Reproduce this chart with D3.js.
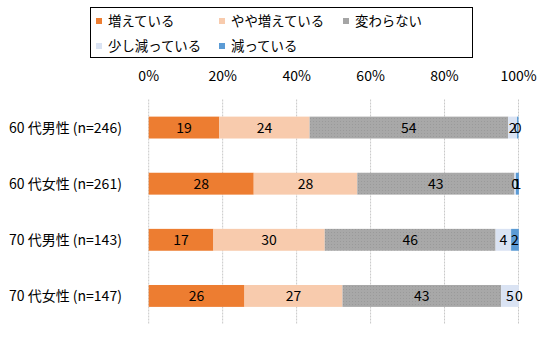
<!DOCTYPE html>
<html><head><meta charset="utf-8">
<script src="https://cdn.jsdelivr.net/npm/d3@7"></script>
<style>body{margin:0;background:#fff}svg{display:block}text{font-family:"Noto Sans CJK JP","Noto Sans",sans-serif;fill:#000}</style>
</head><body><svg id="c" width="551" height="340"></svg>
<script>
const categories = ["60 代男性 (n=246)", "60 代女性 (n=261)", "70 代男性 (n=143)", "70 代女性 (n=147)"];
const seriesNames = ["増えている", "やや増えている", "変わらない", "少し減っている", "減っている"];
const seriesColors = ["#ed7d31", "#f8cbad", "#a5a5a5", "#dae3f3", "#5b9bd5"];
const increase = [19.1, 28.4, 17.5, 25.9];
const slightIncrease = [24.4, 28.0, 30.1, 26.5];
const noChange = [53.7, 42.5, 46.2, 42.9];
const slightDecrease = [2.4, 0.4, 4.2, 4.8];
const decrease = [0.4, 0.8, 2.1, 0.0];
const labelValues = [[19,24,54,2,0],[28,28,43,0,1],[17,30,46,4,2],[26,27,43,5,0]];
const ticks = [0, 20, 40, 60, 80, 100];

const svg = d3.select("#c");
const defs = svg.append("defs");
const pat = defs.append("pattern").attr("id","dots").attr("width",3).attr("height",3).attr("patternUnits","userSpaceOnUse");
pat.append("rect").attr("width",3).attr("height",3).attr("fill","#a8a8a8");
pat.append("rect").attr("x",1).attr("y",1).attr("width",1).attr("height",1).attr("fill","#9a9a9a");

const x = d3.scaleLinear().domain([0,100]).range([148.7,518.5]);
const y = d3.scaleBand().domain(categories).range([99.5,324]).paddingInner(0.61).paddingOuter(0.305);

// grid
svg.append("g").selectAll("line").data(ticks).join("line")
  .attr("x1",d=>x(d)).attr("x2",d=>x(d)).attr("y1",99.5).attr("y2",324)
  .attr("stroke","#c8c8c8").attr("stroke-width",1).attr("stroke-dasharray","2,1");

// tick labels
svg.append("g").selectAll("text").data(ticks).join("text")
  .attr("x",d=>x(d)).attr("y",81).attr("text-anchor","middle")
  .style("font-size","14px").text(d=>d+"%");

// category labels
svg.append("g").selectAll("text").data(categories).join("text")
  .attr("x",9).attr("y",d=>y(d)+y.bandwidth()/2+5)
  .style("font-size","14px").text(d=>d);

const rows = categories.map((c,i)=>({cat:c, vals:[increase[i],slightIncrease[i],noChange[i],slightDecrease[i],decrease[i]], labels:labelValues[i]}));
const segs = [];
rows.forEach(r=>{let acc=0; r.vals.forEach((v,j)=>{segs.push({cat:r.cat,j,x0:acc,x1:acc+v,label:r.labels[j]}); acc+=v;});});

svg.append("g").selectAll("rect").data(segs).join("rect")
  .attr("x",d=>x(d.x0)).attr("width",d=>x(d.x1)-x(d.x0))
  .attr("y",d=>y(d.cat)).attr("height",y.bandwidth())
  .attr("fill",d=>d.j===2?"url(#dots)":seriesColors[d.j]);

svg.append("g").selectAll("text").data(segs).join("text")
  .attr("x",d=>x((d.x0+d.x1)/2)).attr("y",d=>y(d.cat)+y.bandwidth()/2+5)
  .attr("text-anchor","middle").style("font-size","14px").text(d=>d.label);

// legend
svg.append("rect").attr("x",90.5).attr("y",7.5).attr("width",382).attr("height",50)
  .attr("fill","none").attr("stroke","#000").attr("stroke-width",1);
const legPos = [[96,18],[219,18],[343,18],[96,43],[219,43]];
const lg = svg.append("g").selectAll("g").data(seriesNames).join("g")
  .attr("transform",(d,i)=>`translate(${legPos[i][0]},${legPos[i][1]})`);
lg.append("rect").attr("width",6).attr("height",6).attr("fill",(d,i)=>seriesColors[i]);
lg.append("text").attr("x",12).attr("y",7.5).style("font-size","13.4px").text(d=>d);
</script></body></html>
